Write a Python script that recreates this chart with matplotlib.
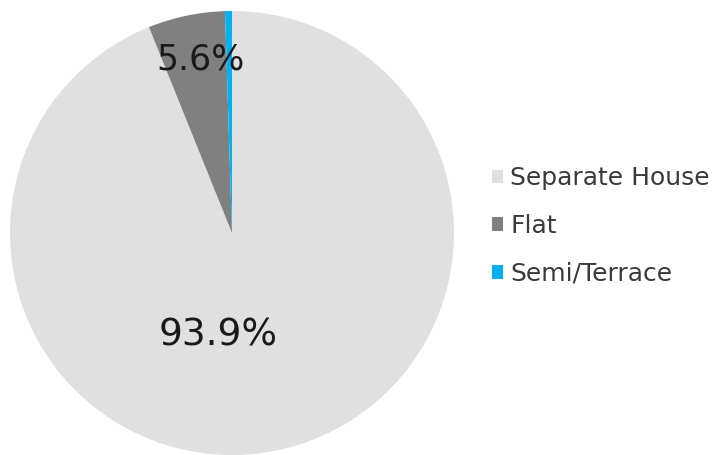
import matplotlib
matplotlib.use("Agg")
import matplotlib.pyplot as plt
from matplotlib.patches import Patch

categories = ["Separate House", "Flat", "Semi/Terrace"]
values = [93.9, 5.6, 0.5]
colors = ["#E0E0E0", "#808080", "#00B0F0"]

plt.rcParams['font.family'] = ['DejaVu Sans']

fig = plt.figure(figsize=(7.2, 4.55), dpi=100)
ax = fig.add_axes([10/720, 0/455, 444/720, 444/455])
wedges, texts, autotexts = ax.pie(values, colors=colors, startangle=90, counterclock=False,
                                  autopct=lambda p: f"{p:.1f}%", pctdistance=0.8,
                                  wedgeprops=dict(linewidth=0))
ax.set_xlim(-1, 1)
ax.set_ylim(-1, 1)
ax.set_aspect('equal')
for t in autotexts:
    t.set_color('#1a1a1a')
autotexts[0].set_fontsize(27)
autotexts[1].set_fontsize(25)
autotexts[0].set_position((-0.06, -0.46))
autotexts[1].set_position((-0.14, 0.78))
autotexts[2].set_visible(False)

handles = [Patch(facecolor=c, edgecolor='none') for c in colors]
fig.legend(handles, categories, loc='center left', bbox_to_anchor=(479/720, 1 - 226/455),
           frameon=False, fontsize=18, handlelength=0.45, handleheight=0.45,
           handletextpad=0.3, labelspacing=0.95, labelcolor='#3a3a3a', borderpad=0)

fig.savefig("out.png", dpi=100)
